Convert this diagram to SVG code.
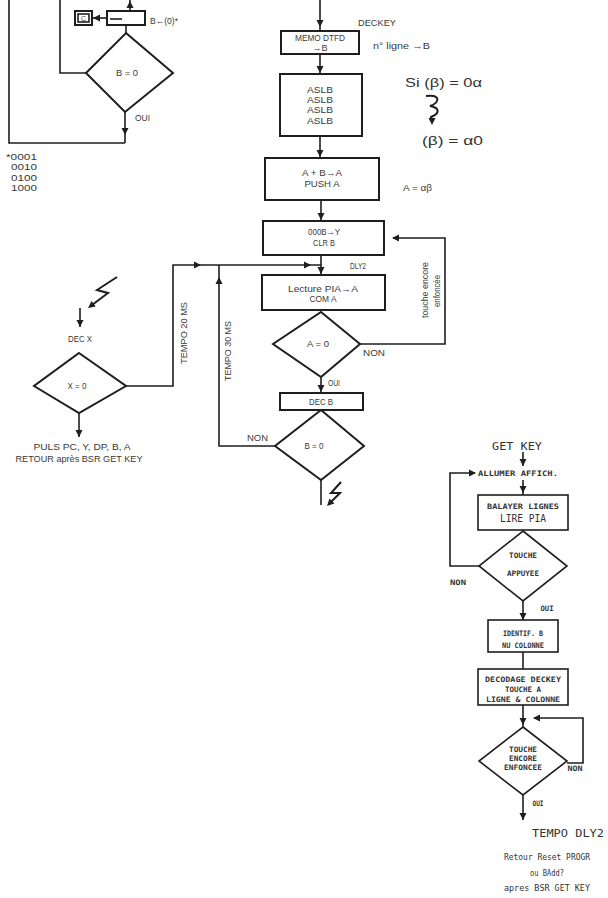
<svg xmlns="http://www.w3.org/2000/svg" width="608" height="898" viewBox="0 0 608 898">
<defs>
<style>
.n{fill:none;stroke:#1e1e1e;stroke-width:2}
.c{fill:none;stroke:#1e1e1e;stroke-width:1.6}
.t{font-family:"Liberation Sans",Arial,sans-serif;font-size:9px;fill:#3a3a3a;text-anchor:middle}
.s{font-family:"Liberation Sans",Arial,sans-serif;font-size:9px;fill:#3a3a3a;text-anchor:start}
.m{font-family:"DejaVu Sans Mono","Liberation Mono",monospace;font-size:7.5px;fill:#333;text-anchor:middle;font-weight:bold}
.b{font-family:"DejaVu Sans Mono","Liberation Mono",monospace;font-size:10px;fill:#333;text-anchor:middle}
.g{font-family:"Liberation Sans",Arial,sans-serif;font-size:12px;fill:#333;text-anchor:start}
</style>
<path id="ah" d="M0,0 L-7,-3.5 L-7,3.5 Z" fill="#1e1e1e"/>
</defs>
<rect width="608" height="898" fill="#fff"/>

<g id="connectors">
  <line class="c" x1="130" y1="0" x2="130" y2="11"/>
  <use href="#ah" transform="translate(130,1) rotate(-90)"/>
  <line class="c" x1="107" y1="18" x2="93" y2="18"/>
  <use href="#ah" transform="translate(93,18) rotate(180)"/>
  <line class="c" x1="126" y1="25" x2="126" y2="33"/>
  <line class="c" x1="125" y1="112" x2="125" y2="143"/>
  <use href="#ah" transform="translate(125,135) rotate(90)"/>
  <polyline class="c" points="125,143 9,143 9,0"/>
  <polyline class="c" points="86,73 60,73 60,0"/>
  <line class="c" x1="320" y1="0" x2="320" y2="31"/>
  <use href="#ah" transform="translate(320,27) rotate(90)"/>
  <line class="c" x1="320" y1="54" x2="320" y2="74"/>
  <use href="#ah" transform="translate(320,73) rotate(90)"/>
  <line class="c" x1="320" y1="136" x2="320" y2="158"/>
  <use href="#ah" transform="translate(320,157) rotate(90)"/>
  <line class="c" x1="321" y1="200" x2="321" y2="221"/>
  <use href="#ah" transform="translate(321,220) rotate(90)"/>
  <line class="c" x1="321" y1="255" x2="321" y2="275"/>
  <use href="#ah" transform="translate(321,274) rotate(90)"/>
  <line class="c" x1="321" y1="377" x2="321" y2="393"/>
  <use href="#ah" transform="translate(321,392) rotate(90)"/>
  <line class="c" x1="321" y1="480" x2="321" y2="505"/>
  <polyline class="c" points="360,344 445,344 445,238 393,238"/>
  <use href="#ah" transform="translate(392,238) rotate(180)"/>
  <polyline class="c" points="275,446 219,446 219,265"/>
  <use href="#ah" transform="translate(219,277) rotate(-90)"/>
  <polyline class="c" points="126,386 173,386 173,265 321,265"/>
  <use href="#ah" transform="translate(201,265)"/>
  <use href="#ah" transform="translate(311,265)"/>
  <line class="c" x1="80" y1="308" x2="80" y2="327"/>
  <use href="#ah" transform="translate(80,327) rotate(90)"/>
  <line class="c" x1="79" y1="413" x2="79" y2="437"/>
  <use href="#ah" transform="translate(79,437) rotate(90)"/>
  <polyline class="n" points="117,277 97,290 108,293 92,305"/>
  <use href="#ah" transform="translate(88,308) rotate(143)"/>
  <polyline class="n" points="341,482 331,493 340,493 330,503"/>
  <use href="#ah" transform="translate(327,506) rotate(135)"/>
  <path class="n" d="M426,96 C441,94 440,103 430,106 C441,108 439,114 431,117 L432,120"/>
  <use href="#ah" transform="translate(432,125) rotate(90)"/>
  <line class="c" x1="523" y1="452" x2="523" y2="466"/>
  <use href="#ah" transform="translate(523,466) rotate(90)"/>
  <polyline class="c" points="479,566 450,566 450,473 475,473"/>
  <use href="#ah" transform="translate(476,473)"/>
  <line class="c" x1="523" y1="480" x2="523" y2="495"/>
  <use href="#ah" transform="translate(523,493) rotate(90)"/>
  <line class="c" x1="523" y1="601" x2="523" y2="620"/>
  <use href="#ah" transform="translate(523,620) rotate(90)"/>
  <line class="c" x1="523" y1="652" x2="523" y2="669"/>
  <line class="c" x1="523" y1="705" x2="523" y2="727"/>
  <use href="#ah" transform="translate(523,725) rotate(90)"/>
  <polyline class="c" points="567,763 583,763 583,718 534,718"/>
  <use href="#ah" transform="translate(533,718) rotate(180)"/>
  <line class="c" x1="523" y1="795" x2="523" y2="820"/>
  <use href="#ah" transform="translate(523,820) rotate(90)"/>
</g>

<g id="box-rotate">
  <rect class="n" x="107" y="11" width="38" height="14"/>
  <line class="c" x1="110" y1="19" x2="122" y2="19"/>
</g>
<g id="box-c">
  <rect class="n" x="75" y="11" width="17" height="14"/>
  <rect class="c" x="78" y="14" width="11" height="8"/>
  <text class="t" x="83.5" y="21" style="font-size:7px">C</text>
</g>
<g id="dia-b0-top">
  <polygon class="n" points="126,33 173,73 125,112 86,73"/>
  <text class="t" x="127" y="76" textLength="22" lengthAdjust="spacingAndGlyphs">B = 0</text>
</g>
<g id="labels-top-left">
  <text class="s" x="150" y="24" textLength="28" lengthAdjust="spacingAndGlyphs">B←(0)*</text>
  <text class="s" x="135" y="121" textLength="15" lengthAdjust="spacingAndGlyphs">OUI</text>
  <text class="s" x="6" y="160" textLength="31" lengthAdjust="spacingAndGlyphs">*0001</text>
  <text class="s" x="11" y="170" textLength="26" lengthAdjust="spacingAndGlyphs">0010</text>
  <text class="s" x="11" y="181" textLength="26" lengthAdjust="spacingAndGlyphs">0100</text>
  <text class="s" x="11" y="191" textLength="26" lengthAdjust="spacingAndGlyphs">1000</text>
</g>

<g id="box-memo">
  <rect class="n" x="281" y="31" width="78" height="23"/>
  <text class="t" x="320" y="41" textLength="50" lengthAdjust="spacingAndGlyphs">MEMO DTFD</text>
  <text class="t" x="320" y="51">→B</text>
</g>
<g id="box-aslb">
  <rect class="n" x="280" y="74" width="82" height="62"/>
  <text class="t" x="320" y="93" textLength="26" lengthAdjust="spacingAndGlyphs">ASLB</text>
  <text class="t" x="320" y="103" textLength="26" lengthAdjust="spacingAndGlyphs">ASLB</text>
  <text class="t" x="320" y="113" textLength="26" lengthAdjust="spacingAndGlyphs">ASLB</text>
  <text class="t" x="320" y="124" textLength="26" lengthAdjust="spacingAndGlyphs">ASLB</text>
</g>
<g id="box-push">
  <rect class="n" x="265" y="158" width="114" height="42"/>
  <text class="t" x="322" y="176" textLength="40" lengthAdjust="spacingAndGlyphs">A + B→A</text>
  <text class="t" x="322" y="187" textLength="35" lengthAdjust="spacingAndGlyphs">PUSH A</text>
</g>
<g id="box-clr">
  <rect class="n" x="263" y="221" width="121" height="34"/>
  <text class="t" x="324" y="235" textLength="32" lengthAdjust="spacingAndGlyphs">000B→Y</text>
  <text class="t" x="324" y="246" textLength="22" lengthAdjust="spacingAndGlyphs">CLR B</text>
</g>
<g id="box-lecture">
  <rect class="n" x="262" y="275" width="123" height="35"/>
  <text class="t" x="323" y="292" textLength="70" lengthAdjust="spacingAndGlyphs">Lecture PIA→A</text>
  <text class="t" x="323" y="302" textLength="27" lengthAdjust="spacingAndGlyphs">COM A</text>
</g>
<g id="dia-a0">
  <polygon class="n" points="321,312 360,344 321,377 273,344"/>
  <text class="t" x="318" y="347" textLength="22" lengthAdjust="spacingAndGlyphs">A = 0</text>
</g>
<g id="box-decb">
  <rect class="n" x="280" y="393" width="83" height="17"/>
  <text class="t" x="321" y="405" textLength="24" lengthAdjust="spacingAndGlyphs">DEC B</text>
</g>
<g id="dia-b0">
  <polygon class="n" points="321,410 364,446 321,480 275,446"/>
  <text class="t" x="314" y="449" textLength="19" lengthAdjust="spacingAndGlyphs">B = 0</text>
</g>
<g id="labels-center">
  <text class="s" x="358" y="26" textLength="38" lengthAdjust="spacingAndGlyphs">DECKEY</text>
  <text class="s" x="373" y="49" textLength="57" lengthAdjust="spacingAndGlyphs">n° ligne →B</text>
  <text class="s" x="403" y="191" textLength="29" lengthAdjust="spacingAndGlyphs">A = αβ</text>
  <text class="s" x="350" y="269" textLength="16" lengthAdjust="spacingAndGlyphs">DLY2</text>
  <text class="s" x="363" y="356" textLength="22" lengthAdjust="spacingAndGlyphs">NON</text>
  <text class="s" x="328" y="386" textLength="12" lengthAdjust="spacingAndGlyphs">OUI</text>
  <text class="s" x="247" y="441" textLength="21" lengthAdjust="spacingAndGlyphs">NON</text>
  <text class="t" transform="translate(187,333) rotate(-90)" textLength="62" lengthAdjust="spacingAndGlyphs">TEMPO 20 MS</text>
  <text class="t" transform="translate(231,351) rotate(-90)" textLength="60" lengthAdjust="spacingAndGlyphs">TEMPO 30 MS</text>
  <text class="t" transform="translate(428,290) rotate(-90)" textLength="56" lengthAdjust="spacingAndGlyphs">touche encore</text>
  <text class="t" transform="translate(440,291) rotate(-90)" textLength="32" lengthAdjust="spacingAndGlyphs">enfoncée</text>
</g>
<g id="notes-right">
  <text class="g" x="405" y="87" textLength="77" lengthAdjust="spacingAndGlyphs">Si (β) = 0α</text>
  <text class="g" x="422" y="145" textLength="61" lengthAdjust="spacingAndGlyphs">(β) = α0</text>
</g>

<g id="dec-x">
  <text class="t" x="80" y="342" textLength="24" lengthAdjust="spacingAndGlyphs">DEC X</text>
</g>
<g id="dia-x0">
  <polygon class="n" points="79,353 126,386 79,413 34,386"/>
  <text class="t" x="77" y="389" textLength="19" lengthAdjust="spacingAndGlyphs">X = 0</text>
</g>
<g id="puls">
  <text class="t" x="82" y="450" textLength="97" lengthAdjust="spacingAndGlyphs">PULS PC, Y, DP, B, A</text>
  <text class="t" x="79" y="462" textLength="127" lengthAdjust="spacingAndGlyphs">RETOUR après BSR GET KEY</text>
</g>

<g id="r-getkey">
  <text class="b" x="517" y="450" textLength="50" lengthAdjust="spacingAndGlyphs" style="font-size:11px">GET KEY</text>
</g>
<g id="r-allumer">
  <text class="m" x="518" y="476" textLength="80" lengthAdjust="spacingAndGlyphs">ALLUMER AFFICH.</text>
</g>
<g id="r-balayer">
  <rect class="c" x="478" y="495" width="90" height="35"/>
  <text class="m" x="523" y="509" textLength="72" lengthAdjust="spacingAndGlyphs">BALAYER LIGNES</text>
  <text class="b" x="523" y="522" textLength="46" lengthAdjust="spacingAndGlyphs">LIRE PIA</text>
</g>
<g id="r-dia-appuyee">
  <polygon class="c" points="523,531 567,566 523,601 479,566"/>
  <text class="m" x="523" y="558" textLength="28" lengthAdjust="spacingAndGlyphs">TOUCHE</text>
  <text class="m" x="523" y="576" textLength="32" lengthAdjust="spacingAndGlyphs">APPUYEE</text>
</g>
<g id="r-labels">
  <text class="m" x="458" y="585" textLength="16" lengthAdjust="spacingAndGlyphs">NON</text>
  <text class="m" x="547" y="611" textLength="13" lengthAdjust="spacingAndGlyphs">OUI</text>
  <text class="m" x="575" y="771" textLength="15" lengthAdjust="spacingAndGlyphs">NON</text>
  <text class="m" x="538" y="806" textLength="11" lengthAdjust="spacingAndGlyphs">OUI</text>
</g>
<g id="r-identif">
  <rect class="c" x="488" y="620" width="70" height="32"/>
  <text class="m" x="523" y="636" textLength="40" lengthAdjust="spacingAndGlyphs">IDENTIF. B</text>
  <text class="m" x="523" y="648" textLength="42" lengthAdjust="spacingAndGlyphs">NU COLONNE</text>
</g>
<g id="r-decodage">
  <rect class="c" x="478" y="669" width="90" height="36"/>
  <text class="m" x="523" y="682" textLength="76" lengthAdjust="spacingAndGlyphs">DECODAGE DECKEY</text>
  <text class="m" x="523" y="692" textLength="36" lengthAdjust="spacingAndGlyphs">TOUCHE A</text>
  <text class="m" x="523" y="702" textLength="74" lengthAdjust="spacingAndGlyphs">LIGNE &amp; COLONNE</text>
</g>
<g id="r-dia-encore">
  <polygon class="c" points="523,727 567,761 523,795 479,761"/>
  <text class="m" x="523" y="752" textLength="28" lengthAdjust="spacingAndGlyphs">TOUCHE</text>
  <text class="m" x="523" y="761" textLength="28" lengthAdjust="spacingAndGlyphs">ENCORE</text>
  <text class="m" x="523" y="770" textLength="38" lengthAdjust="spacingAndGlyphs">ENFONCEE</text>
</g>
<g id="r-end">
  <text class="b" x="568" y="837" textLength="72" lengthAdjust="spacingAndGlyphs">TEMPO DLY2</text>
  <text class="b" x="547" y="860" textLength="86" lengthAdjust="spacingAndGlyphs" style="font-size:9px">Retour Reset PROGR</text>
  <text class="b" x="547" y="876" textLength="34" lengthAdjust="spacingAndGlyphs" style="font-size:9px">ou BAdd?</text>
  <text class="b" x="547" y="891" textLength="86" lengthAdjust="spacingAndGlyphs" style="font-size:9px">apres BSR GET KEY</text>
</g>
</svg>
